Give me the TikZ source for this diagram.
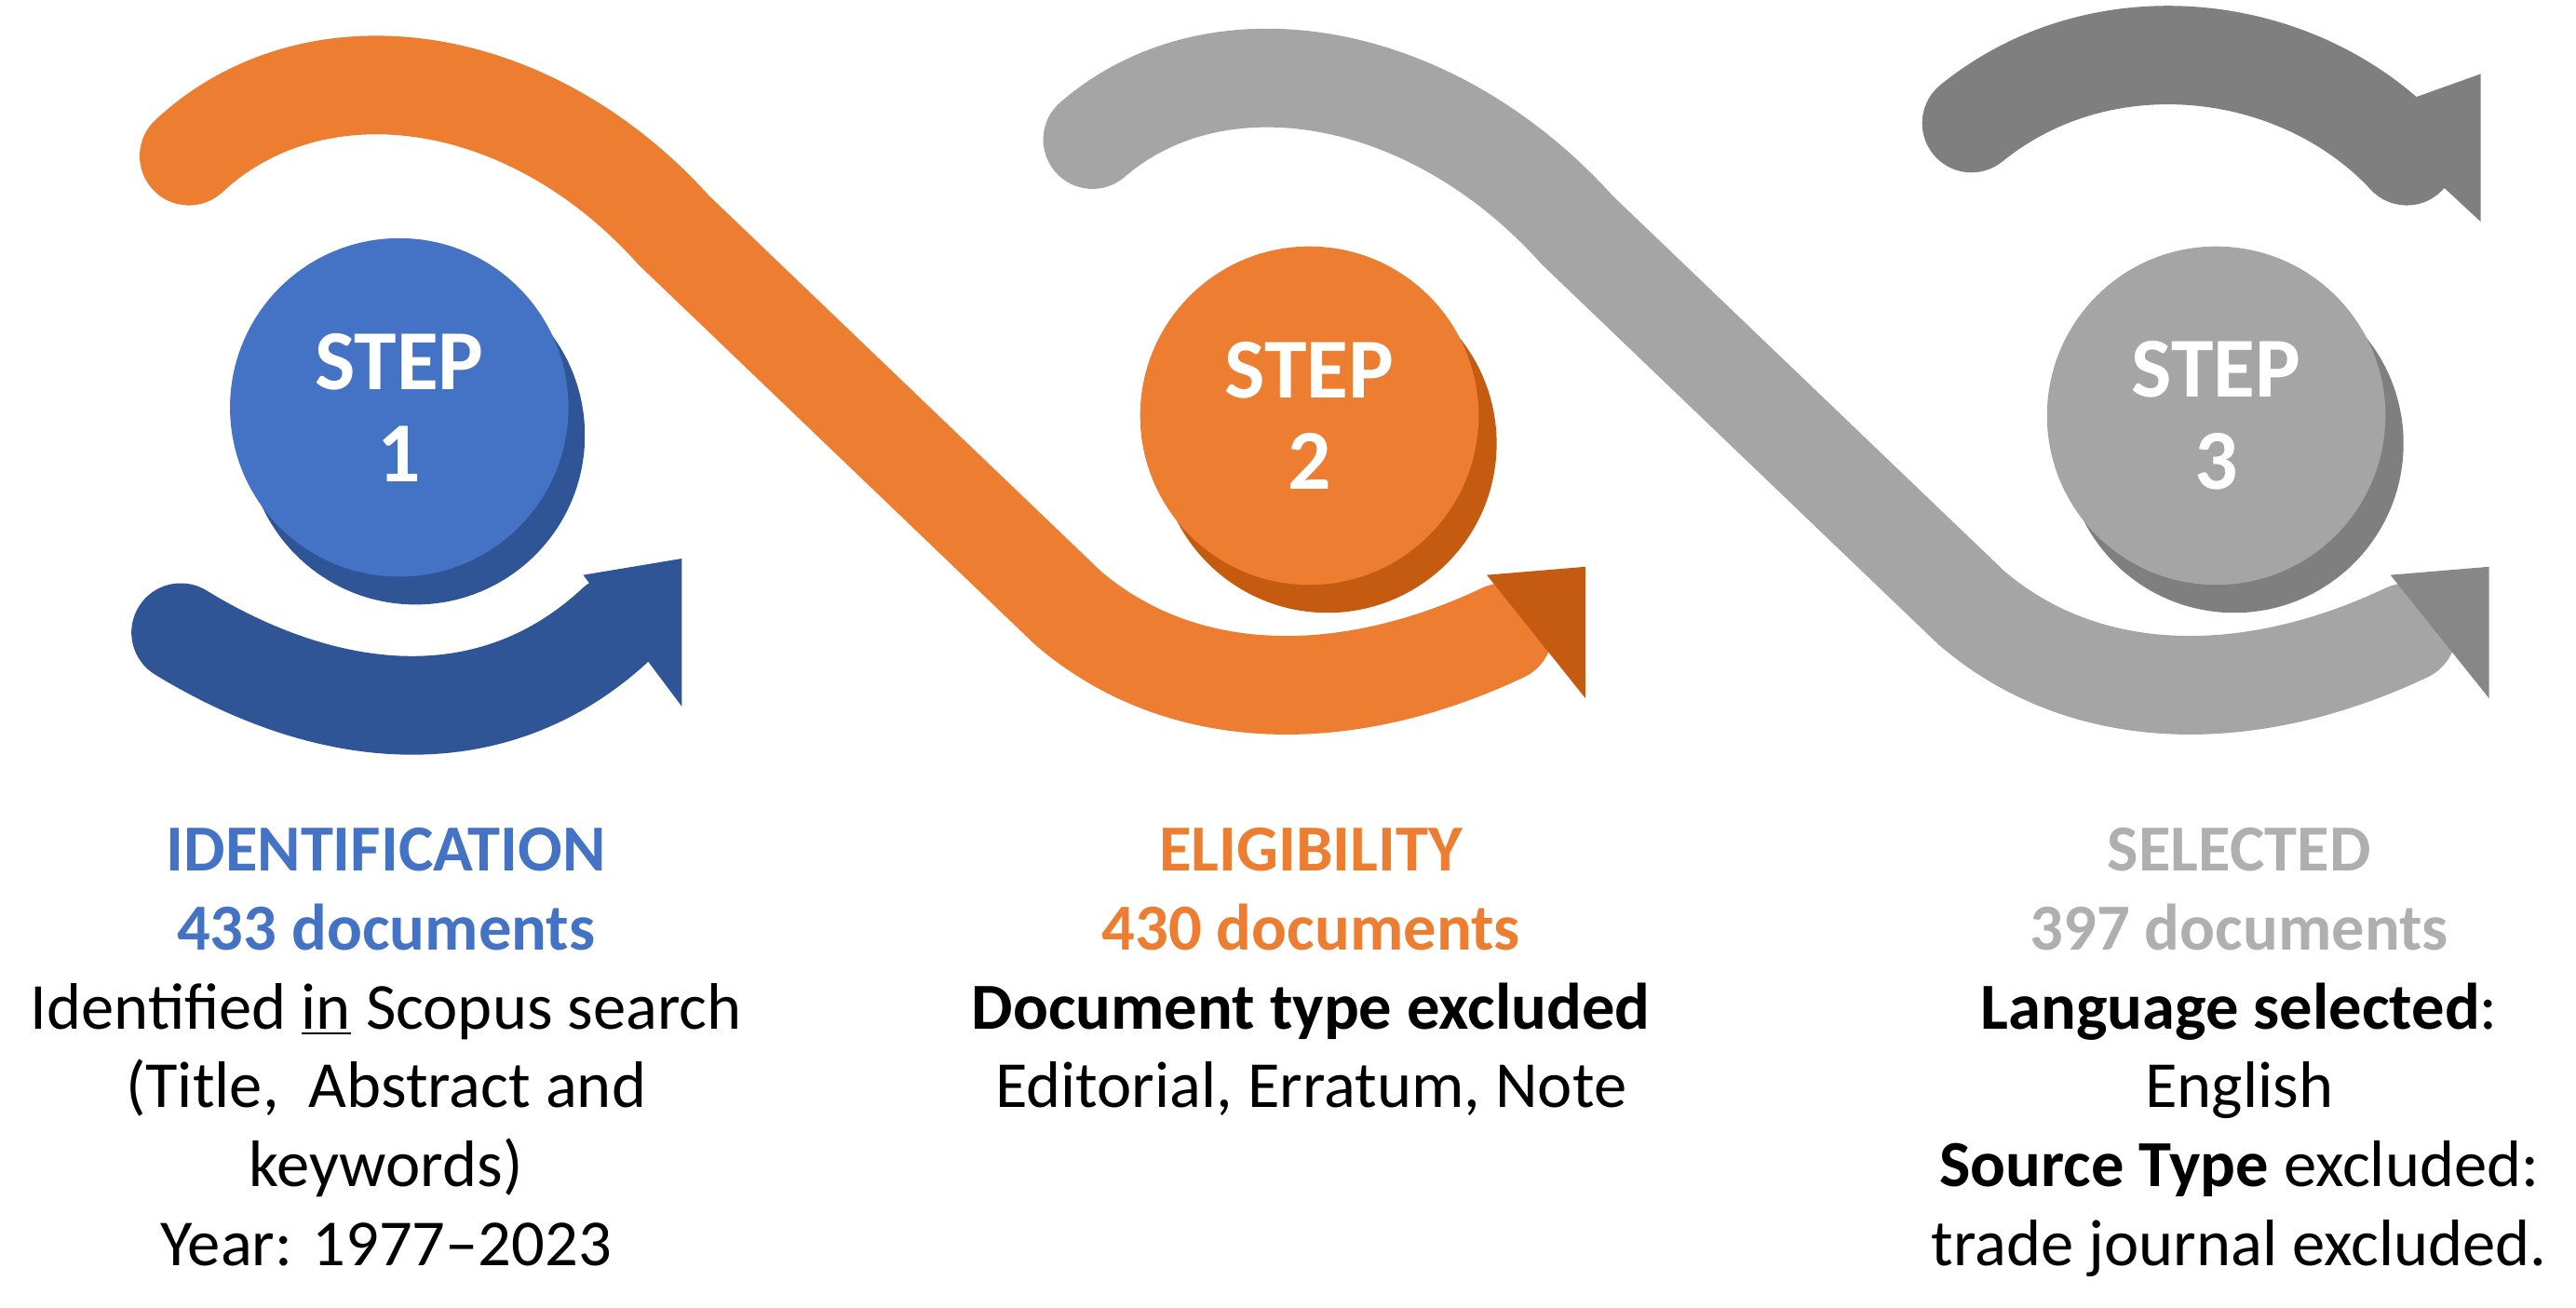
\documentclass[tikz,border=0pt]{standalone}
\usepackage{fontspec}
\setmainfont{Carlito}
\definecolor{blu}{HTML}{4472C4}
\definecolor{dblu}{HTML}{2F5597}
\definecolor{org}{HTML}{ED7D31}
\definecolor{dorg}{HTML}{C55A11}
\definecolor{gry}{HTML}{A5A5A5}
\definecolor{dgry}{HTML}{7F7F7F}
\definecolor{lgry}{HTML}{AFAFAF}
\begin{document}
\begin{tikzpicture}[x=0.5pt,y=-0.5pt,
  band/.style={line width=30pt},
  steptxt/.style={text=white,font=\fontsize{26}{30}\selectfont\bfseries,align=center},
  lab/.style={font=\fontsize{20}{24}\selectfont,align=center}]
\useasboundingbox (0,0) rectangle (1568,796);
% orange band
\draw[band,org,line cap=round] (115,95) .. controls (190,25) and (320,40) .. (410,140) -- (650,370) .. controls (720,430) and (820,430) .. (915,385);
\fill[dorg] (905,350) -- (965,345) -- (965,425) -- cycle;
% light gray band
\draw[band,gry,line cap=round] (665,85) .. controls (740,20) and (870,40) .. (960,140) -- (1200,370) .. controls (1270,430) and (1370,430) .. (1465,385);
\fill[dgry!80!gry] (1455,350) -- (1515,345) -- (1515,425) -- cycle;
% dark gray top arrow
\draw[band,dgry,line cap=round] (1200,75) .. controls (1280,10) and (1400,25) .. (1465,95);
\fill[dgry] (1440,70) -- (1510,45) -- (1510,135) -- cycle;
% blue bottom arrow
\draw[band,dblu,line cap=round] (110,385) .. controls (200,440) and (300,450) .. (375,380);
\fill[dblu] (355,350) -- (415,340) -- (415,430) -- cycle;
% circles
\fill[dblu] (253,265) circle (103);
\node[circle,fill=blu,minimum size=206pt*0.5,inner sep=0] (c1) at (243,248) {};
\node[steptxt] at (c1) {STEP\\[-2pt]1};
\fill[dorg] (808,270) circle (103);
\node[circle,fill=org,minimum size=206pt*0.5,inner sep=0] (c2) at (797,253) {};
\node[steptxt] at (c2) {STEP\\[-2pt]2};
\fill[dgry] (1360,270) circle (103);
\node[circle,fill=gry,minimum size=206pt*0.5,inner sep=0] (c3) at (1349,253) {};
\node[steptxt] at (c3) {STEP\\[-2pt]3};
% labels
\node[lab,anchor=north] (t1) at (235,497) {\textcolor{blu}{\textbf{IDENTIFICATION}}\\\textcolor{blu}{\textbf{433 documents}}\\Identified \underline{in} Scopus search\\(Title,\ \ Abstract and\\keywords)\\Year: 1977–2023};
\node[lab,anchor=north] (t2) at (798,497) {\textcolor{org}{\textbf{ELIGIBILITY}}\\\textcolor{org}{\textbf{430 documents}}\\\textbf{Document type excluded}\\Editorial, Erratum, Note};
\node[lab,anchor=north] (t3) at (1363,497) {\textcolor{lgry}{\textbf{SELECTED}}\\\textcolor{lgry}{\textbf{397 documents}}\\\textbf{Language selected}:\\English\\\textbf{Source Type} excluded:\\trade journal excluded.};
\end{tikzpicture}
\end{document}
